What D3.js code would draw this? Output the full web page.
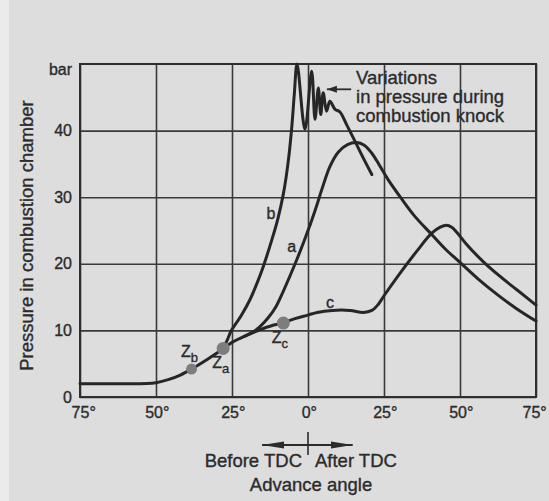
<!DOCTYPE html>
<html>
<head>
<meta charset="utf-8">
<script src="https://cdn.jsdelivr.net/npm/d3@7"></script>
<style>
  html, body { margin: 0; padding: 0; background: #dddddd; }
  svg { display: block; }
  text { font-family: "Liberation Sans", Arial, Helvetica, sans-serif; fill: #2b2b2b;
         stroke: #2b2b2b; stroke-width: 0.35px; }
</style>
</head>
<body>
<svg id="chart" width="549" height="501"></svg>
<script>
// ---------------- DATA ----------------
// x: crank angle in degrees (negative = before TDC), y: pressure in bar
const xTicks = [-75, -50, -25, 0, 25, 50, 75];
const xTickLabels = ["75°", "50°", "25°", "0°", "25°", "50°", "75°"];
const yTicks = [0, 10, 20, 30, 40];
const yTickLabels = ["0", "10", "20", "30", "40"];

// compression curve (common to all, up to ignition point Zc)
const compressionCurve = [
  [-75, 2.0], [-60, 2.0], [-53, 2.02], [-50, 2.15], [-46, 2.6], [-42, 3.3],
  [-38.3, 4.2], [-33.3, 5.6], [-28, 7.2], [-25, 8.2], [-20, 9.3],
  [-15.8, 10.1], [-12, 10.7], [-8.1, 11.1]
];
// curve b: early ignition -> combustion knock
const curveB = [
  [-28, 7.2], [-26.5, 8.6], [-25.3, 9.9], [-22, 12.2], [-19.1, 14.6],
  [-16.5, 17.4], [-14.7, 19.6], [-11.9, 23.6], [-10, 26.6], [-8.1, 30.5],
  [-6.6, 35], [-5.4, 40.2], [-4.5, 45.5], [-3.6, 50], [-1, 40.2],
  [1.2, 48.9], [2.3, 41.7], [3.4, 46.4], [4.2, 42.4], [5.0, 45.7],
  [6.1, 42.9], [7.2, 44.4], [8.9, 43.2], [10.5, 42.8], [12.7, 40.9],
  [16, 37.9], [18.5, 35.6], [21, 33.4]
];
// curve a: correct ignition
const curveA = [
  [-21, 9.1], [-17, 10.1], [-13.1, 11.9], [-10.5, 13.6], [-8.1, 15.9],
  [-3.7, 20.6], [0.1, 25.1], [2.9, 28.8], [4.5, 31.1], [7.2, 34.6],
  [10, 36.8], [13, 37.9], [16, 38.2], [18.5, 37.8], [21, 36.6],
  [23.5, 34.8], [26.4, 32.6], [30.4, 30.0], [35, 27.2], [40.7, 24.4],
  [45, 22.3], [50, 20.2], [56, 17.7], [62.5, 15.3], [68.5, 13.3], [75, 11.4]
];
// curve c: late ignition
const curveC = [
  [-8.1, 11.1], [-4, 11.8], [0, 12.3], [3, 12.7], [8, 13.0], [13.8, 13.0],
  [18.2, 12.7], [21, 13.0], [23.1, 13.9], [25, 15.2], [30.3, 18.6],
  [35.8, 21.9], [40.7, 24.6], [43.5, 25.5], [45.5, 25.8], [47.3, 25.5],
  [49, 24.7], [52.2, 22.9], [57.7, 20.3], [63.2, 18.1], [68.7, 16.1], [75, 13.8]
];
// ignition points
const ignitionPoints = [
  { name: "Z", sub: "b", x: -38.3, y: 4.2, r: 5.5, lx: -41.8, ly: 6.0 },
  { name: "Z", sub: "a", x: -27.9, y: 7.3, r: 6.5, lx: -31.5, ly: 4.35 },
  { name: "Z", sub: "c", x: -8.1, y: 11.1, r: 6.5, lx: -11.9, ly: 8.05 }
];
const curveLabels = [
  { text: "b", x: -12.2, y: 26.8 },
  { text: "a", x: -5.4, y: 21.8 },
  { text: "c", x: 7.2, y: 13.4 }
];
const knockNote = ["Variations", "in pressure during", "combustion knock"];

// ---------------- LAYOUT ----------------
const svg = d3.select("#chart");
const W = 549, H = 501;
const m = { left: 80, right: 13, top: 64, bottom: 104 };
const x = d3.scaleLinear().domain([-75, 75]).range([m.left, W - m.right]);
const y = d3.scaleLinear().domain([0, 50]).range([H - m.bottom, m.top]);
const ink = "#2b2b2b";

svg.append("rect").attr("width", W).attr("height", H).attr("fill", "#dddddd");
svg.append("rect").attr("width", 9).attr("height", H).attr("fill", "#ebebeb");

// grid + axes
const gx = svg.append("g")
  .attr("transform", `translate(0,${y(0)})`)
  .call(d3.axisBottom(x).tickValues(xTicks).tickSize(-(y(0) - y(50)))
    .tickPadding(10).tickFormat((d, i) => xTickLabels[i]));
const gy = svg.append("g")
  .attr("transform", `translate(${x(-75)},0)`)
  .call(d3.axisLeft(y).tickValues(yTicks).tickSize(-(x(75) - x(-75)))
    .tickPadding(8).tickFormat((d, i) => yTickLabels[i]));
[gx, gy].forEach(g => {
  g.select(".domain").remove();
  g.selectAll(".tick line").attr("stroke", "#3a3a3a").attr("stroke-width", 1.6);
  g.selectAll(".tick text").attr("font-size", 16).attr("fill", ink)
    .style("font-family", '"Liberation Sans", Arial, sans-serif');
});
gx.selectAll(".tick text").attr("dx", (d, i) => i === 0 ? "0.2em" : (i === xTicks.length - 1 ? "-0.12em" : "0.05em"));

// frame
svg.append("rect")
  .attr("x", x(-75)).attr("y", y(50))
  .attr("width", x(75) - x(-75)).attr("height", y(0) - y(50))
  .attr("fill", "none").attr("stroke", "#2e2e2e").attr("stroke-width", 2);

// unit
svg.append("text").attr("x", x(-75) - 8).attr("y", y(50) + 11)
  .attr("text-anchor", "end").attr("font-size", 16).text("bar");

// y title
svg.append("text")
  .attr("transform", `translate(32.5,${(y(0) + y(50)) / 2 + 5}) rotate(-90)`)
  .attr("text-anchor", "middle").attr("font-size", 18.5)
  .text("Pressure in combustion chamber");

// curves
const line = d3.line().x(d => x(d[0])).y(d => y(d[1]))
  .curve(d3.curveCatmullRom.alpha(0.5));
const curvesG = svg.append("g").attr("fill", "none").attr("stroke", "#262626")
  .attr("stroke-width", 3).attr("stroke-linecap", "round").attr("stroke-linejoin", "round");
[compressionCurve, curveB, curveA, curveC].forEach(c =>
  curvesG.append("path").attr("d", line(c)));

// ignition points
svg.selectAll("circle.ign").data(ignitionPoints).join("circle")
  .attr("class", "ign").attr("cx", d => x(d.x)).attr("cy", d => y(d.y))
  .attr("r", d => d.r).attr("fill", "#7d7d7d");
const zl = svg.selectAll("text.zl").data(ignitionPoints).join("text")
  .attr("class", "zl").attr("x", d => x(d.lx)).attr("y", d => y(d.ly))
  .attr("font-size", 16);
zl.append("tspan").text(d => d.name);
zl.append("tspan").attr("font-size", 13).attr("dy", 5).text(d => d.sub);

// curve labels
svg.selectAll("text.cl").data(curveLabels).join("text")
  .attr("class", "cl").attr("x", d => x(d.x)).attr("y", d => y(d.y))
  .attr("text-anchor", "middle").attr("font-size", 16).text(d => d.text);

// knock annotation
const noteX = x(15.8);
svg.selectAll("text.note").data(knockNote).join("text")
  .attr("class", "note").attr("x", noteX)
  .attr("y", (d, i) => y(47.05) + i * 19.3)
  .attr("font-size", 18.5).text(d => d);
const defs = svg.append("defs");
defs.append("marker").attr("id", "ah").attr("viewBox", "0 0 10 10")
  .attr("refX", 10).attr("refY", 5).attr("markerWidth", 10).attr("markerHeight", 10)
  .attr("markerUnits", "userSpaceOnUse").attr("orient", "auto-start-reverse")
  .append("path").attr("d", "M0,1.5 L10,5 L0,8.5 Z").attr("fill", ink);
svg.append("line").attr("x1", x(14.2)).attr("x2", x(6.2))
  .attr("y1", y(46.2)).attr("y2", y(46.2))
  .attr("stroke", ink).attr("stroke-width", 1.8).attr("marker-end", "url(#ah)");

// TDC arrow under the axis
defs.append("marker").attr("id", "ah2").attr("viewBox", "0 0 22 8")
  .attr("refX", 22).attr("refY", 4).attr("markerWidth", 22).attr("markerHeight", 8)
  .attr("markerUnits", "userSpaceOnUse").attr("orient", "auto-start-reverse")
  .append("path").attr("d", "M0,0.5 L22,4 L0,7.5 Z").attr("fill", ink);
const arrowY = 445;
svg.append("line").attr("x1", x(0)).attr("x2", x(0)).attr("y1", 432).attr("y2", 455)
  .attr("stroke", ink).attr("stroke-width", 1.6);
svg.append("line").attr("x1", x(-15.1)).attr("x2", x(14.7))
  .attr("y1", arrowY).attr("y2", arrowY)
  .attr("stroke", ink).attr("stroke-width", 1.8)
  .attr("marker-start", "url(#ah2)").attr("marker-end", "url(#ah2)");
svg.append("text").attr("x", x(0) - 6).attr("y", 467).attr("text-anchor", "end")
  .attr("font-size", 18.5).text("Before TDC");
svg.append("text").attr("x", x(0) + 7).attr("y", 467).attr("text-anchor", "start")
  .attr("font-size", 18.5).text("After TDC");
svg.append("text").attr("x", x(1)).attr("y", 491).attr("text-anchor", "middle")
  .attr("font-size", 18.5).text("Advance angle");
</script>
</body>
</html>
